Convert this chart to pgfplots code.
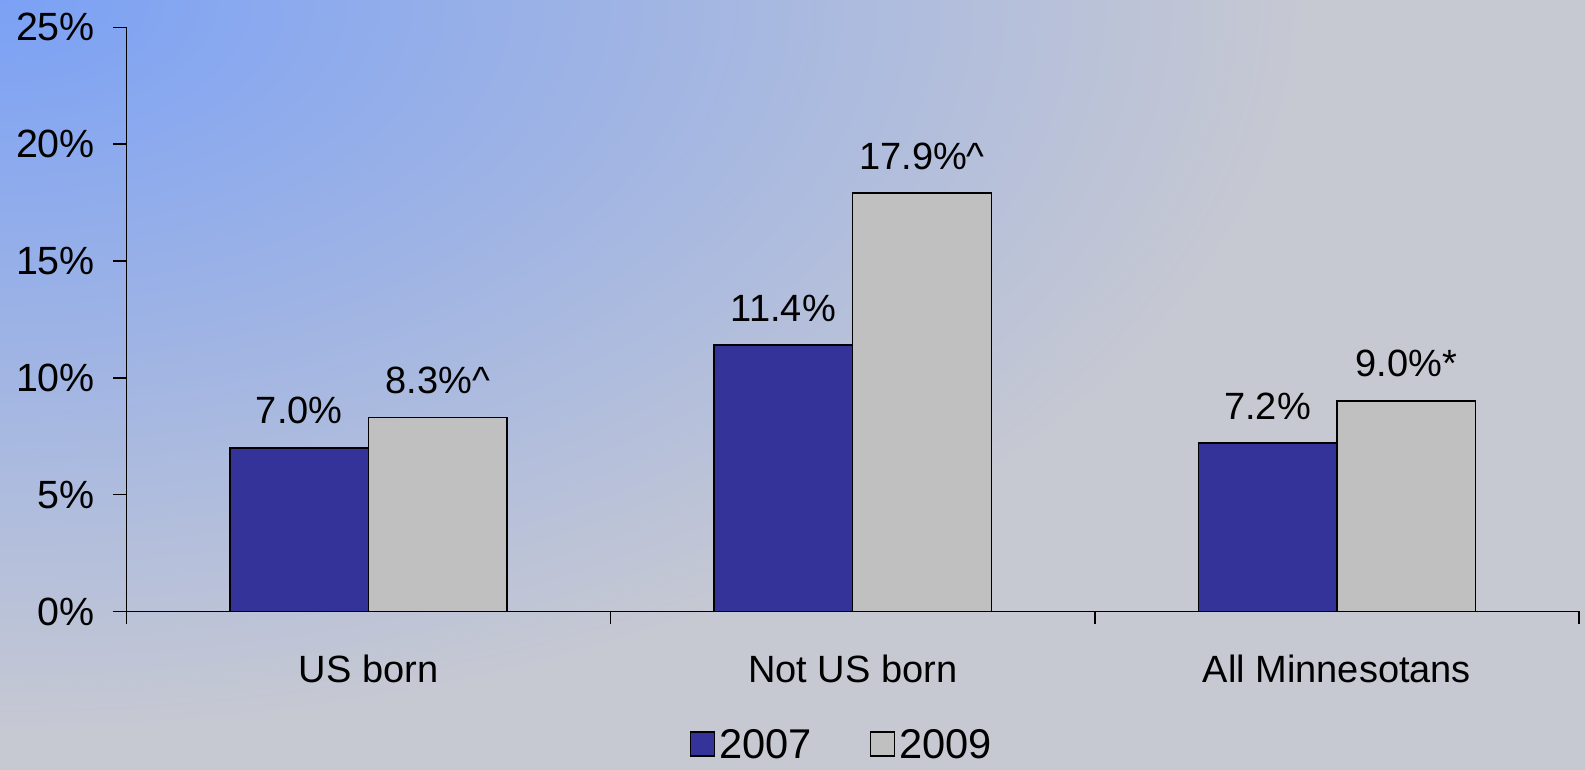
\documentclass[border=0pt]{standalone}
\usepackage{pgfplots}
\pgfplotsset{compat=1.18}
\usepackage{fontspec}
\setmainfont{Liberation Sans}
\definecolor{bgA}{RGB}{123,161,245}
\definecolor{bgB}{RGB}{199,201,210}
\definecolor{c07}{RGB}{51,51,153}
\definecolor{c09}{RGB}{192,192,192}
\begin{document}
\begin{tikzpicture}[x=1pt,y=1pt]
\useasboundingbox (0,0) rectangle (792.5,385);
\begin{scope}
\clip (0,0) rectangle (792.5,385);
\fill[bgB] (0,0) rectangle (792.5,385);
\shade[inner color=bgA, outer color=bgB] (0,385) ellipse [x radius=660, y radius=370];
\end{scope}
\begin{axis}[
  at={(63.2pt,79.25pt)}, anchor=south west,
  scale only axis, width=726.3pt, height=292.1pt,
  xmin=0.5, xmax=3.5, ymin=0, ymax=25,
  ybar, bar width=69.3pt,
  axis x line*=bottom, axis y line*=left,
  axis line style={-, black, line width=0.75pt},
  tick align=outside,
  major tick length=6.5pt, minor tick length=6.5pt,
  tick style={black, line width=0.75pt},
  ytick={0,5,10,15,20,25},
  yticklabels={0\%,5\%,10\%,15\%,20\%,25\%},
  xtick={1,2,3},
  xticklabels={US born, Not US born, All Minnesotans},
  minor xtick={0.5,1.5,2.5,3.5},
  major x tick style={draw=none},
  xticklabel style={font=\fontsize{19pt}{22pt}\selectfont, yshift=-11.5pt},
  yticklabel style={font=\fontsize{19.7pt}{22pt}\selectfont, xshift=-5.7pt},
  legend columns=2,
  legend style={draw=none, fill=none, at={(axis description cs:0.4933,-0.227)}, anchor=center,
    font=\fontsize{20.8pt}{24pt}\selectfont,
    nodes={inner ysep=0.8pt, text depth=0pt},
    /tikz/every even column/.append style={column sep=27pt}},
  nodes near coords style={font=\fontsize{19pt}{22pt}\selectfont, yshift=8.2pt, text=black},
]
\addplot[ybar, bar shift=-34.65pt, fill=c07, draw=black, line width=0.75pt,
  nodes near coords, point meta=explicit symbolic,
  legend image code/.code={\draw[fill=c07, draw=black, line width=0.75pt] (1.5pt,-6pt) rectangle (13.5pt,6pt);}]
  coordinates {(1,7.0)[7.0\%] (2,11.4)[11.4\%] (3,7.2)[7.2\%]};
\addlegendentry{2007}
\addplot[ybar, bar shift=34.65pt, fill=c09, draw=black, line width=0.75pt,
  nodes near coords, point meta=explicit symbolic,
  legend image code/.code={\draw[fill=c09, draw=black, line width=0.75pt] (1.5pt,-6pt) rectangle (13.5pt,6pt);}]
  coordinates {(1,8.3)[8.3\%\textasciicircum] (2,17.9)[17.9\%\textasciicircum] (3,9.0)[9.0\%*]};
\addlegendentry{2009}
\end{axis}
\end{tikzpicture}
\end{document}
